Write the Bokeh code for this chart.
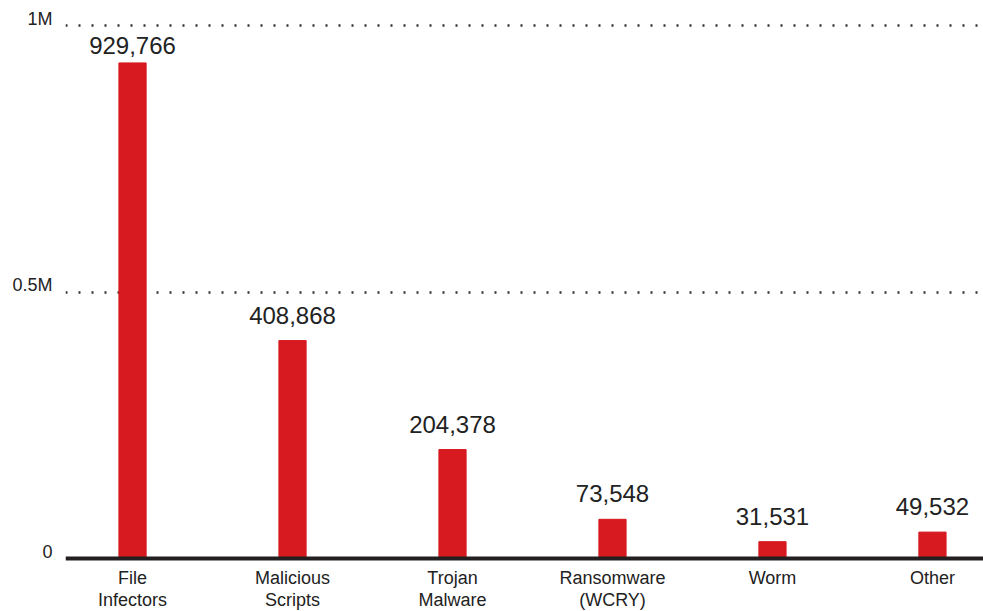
from bokeh.plotting import figure
from bokeh.models import FixedTicker, LinearAxis, Span, ColumnDataSource, Range1d
from bokeh.embed import file_html
from bokeh.resources import INLINE
from bokeh.core.properties import value

categories = ["File\nInfectors", "Malicious\nScripts", "Trojan\nMalware", "Ransomware\n(WCRY)", "Worm", "Other"]
values = [929766, 408868, 204378, 73548, 31531, 49532]
value_labels = ["929,766", "408,868", "204,378", "73,548", "31,531", "49,532"]
y_ticks = [0, 500000, 1000000]
y_tick_labels = ["0", "0.5M", "1M"]

FONT = "Liberation Sans"
RED = "#d71920"
TXT = "#222222"

xs = list(range(len(categories)))
px_per_unit = 533 / 1e6
# value labels sit ~20px above bars, but never closer than ~30px under the 1M line
label_y = [min(v + 17 / px_per_unit, 1e6 - 28 / px_per_unit) for v in values]
src = ColumnDataSource(dict(x=xs, top=values, ly=label_y, lab=value_labels))
cat_y = [-9 / px_per_unit] * len(categories)
csrc = ColumnDataSource(dict(x=xs, y=cat_y, lab=categories))

p = figure(width=983, height=611, output_backend="svg", toolbar_location=None,
           x_range=Range1d(-0.419, 5.319),
           y_range=Range1d(-53 / px_per_unit, 1e6 + 15 / px_per_unit),
           min_border_left=65, min_border_right=0, min_border_top=10, min_border_bottom=0)
p.outline_line_color = None
p.background_fill_color = "white"
p.border_fill_color = "white"

p.vbar(x="x", top="top", bottom=0, width=0.17, color=RED, source=src)
p.text(x="x", y="ly", text="lab", source=src, text_align="center", text_baseline="bottom",
       text_font=value(FONT), text_font_size="24px", text_color=TXT)
p.text(x="x", y="y", text="lab", source=csrc, text_align="center", text_baseline="top",
       text_font=value(FONT), text_font_size="18px", text_color=TXT, text_line_height=1.1)

base = Span(location=0, dimension="width", line_color="#231f20", line_width=4)
p.add_layout(base)

# grid
p.xgrid.visible = False
p.ygrid.ticker = FixedTicker(ticks=[500000, 1000000])
p.ygrid.grid_line_color = "#333333"
p.ygrid.grid_line_width = 2.5
p.ygrid.grid_line_dash = "2 11"

# main axes hidden, y labels drawn via shifted axis
p.yaxis.visible = False
p.xaxis.visible = False
d = 13000
lab_axis = LinearAxis(ticker=FixedTicker(ticks=[t + d for t in y_ticks]),
                      major_label_overrides={t + d: l for t, l in zip(y_ticks, y_tick_labels)})
lab_axis.axis_line_color = None
lab_axis.major_tick_line_color = None
lab_axis.minor_tick_line_color = None
lab_axis.major_label_text_font = FONT
lab_axis.major_label_text_font_size = "18px"
lab_axis.major_label_text_color = TXT
lab_axis.major_label_standoff = 7
p.add_layout(lab_axis, "left")

open("out.html", "w").write(file_html(p, INLINE))
